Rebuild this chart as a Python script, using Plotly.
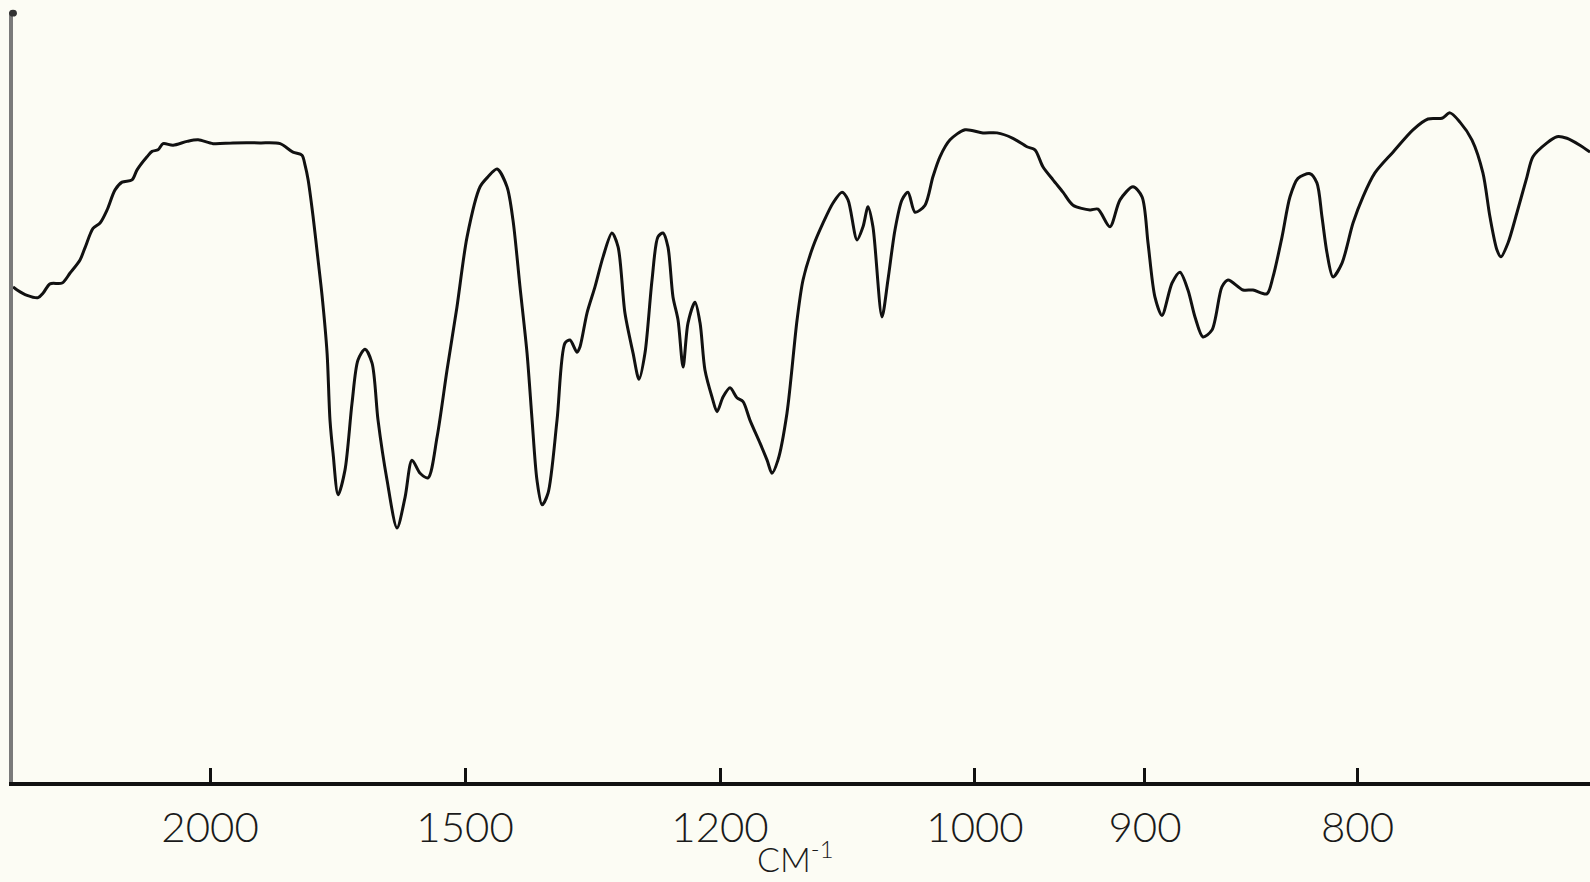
import plotly.graph_objects as go

# IR spectrum: abscissa linear in wavelength (µm), labelled in wavenumber (cm-1)
wavelength_um = [
    3.712, 3.739, 3.804, 3.876, 3.909, 3.954, 4.033, 4.085, 4.150, 4.183,
    4.235, 4.281, 4.327, 4.379, 4.425, 4.490, 4.523, 4.588, 4.621, 4.660,
    4.693, 4.758, 4.850, 4.922, 5.020, 5.150, 5.327, 5.458, 5.542, 5.601,
    5.621, 5.641, 5.673, 5.706, 5.732, 5.765, 5.784, 5.804, 5.837, 5.882,
    5.928, 5.967, 6.013, 6.059, 6.098, 6.157, 6.222, 6.275, 6.320, 6.373,
    6.425, 6.484, 6.549, 6.614, 6.680, 6.765, 6.817, 6.876, 6.941, 6.980,
    7.026, 7.072, 7.105, 7.137, 7.170, 7.209, 7.268, 7.320, 7.353, 7.399,
    7.418, 7.464, 7.516, 7.569, 7.627, 7.667, 7.712, 7.765, 7.804, 7.843,
    7.889, 7.928, 7.961, 7.993, 8.026, 8.059, 8.092, 8.124, 8.170, 8.203,
    8.235, 8.281, 8.314, 8.353, 8.399, 8.444, 8.484, 8.529, 8.595, 8.641,
    8.673, 8.712, 8.771, 8.837, 8.876, 8.941, 9.007, 9.072, 9.131, 9.170,
    9.229, 9.268, 9.301, 9.333, 9.392, 9.431, 9.477, 9.523, 9.562, 9.608,
    9.673, 9.725, 9.771, 9.837, 9.935, 10.052, 10.144, 10.248, 10.340, 10.392,
    10.444, 10.510, 10.575, 10.641, 10.752, 10.804, 10.882, 10.948, 11.033, 11.092,
    11.131, 11.176, 11.222, 11.288, 11.340, 11.392, 11.438, 11.490, 11.549, 11.614,
    11.654, 11.752, 11.817, 11.908, 11.948, 12.007, 12.059, 12.111, 12.190, 12.235,
    12.268, 12.301, 12.340, 12.399, 12.471, 12.536, 12.614, 12.732, 12.863, 12.961,
    13.052, 13.105, 13.170, 13.248, 13.320, 13.366, 13.412, 13.438, 13.484, 13.542,
    13.608, 13.647, 13.739, 13.804, 13.869, 13.954, 14.020,
]

transmittance = [
    64.3, 63.9, 63.2, 62.9, 63.5, 64.7, 64.8, 66.1, 67.8, 69.4,
    71.9, 72.6, 74.3, 76.9, 77.9, 78.2, 79.5, 81.2, 81.9, 82.1,
    82.9, 82.7, 83.2, 83.4, 82.9, 83.0, 83.0, 82.9, 81.8, 81.4,
    80.1, 78.2, 73.5, 67.8, 63.2, 55.7, 47.0, 42.7, 37.3, 40.5,
    49.2, 54.8, 56.2, 54.4, 47.0, 39.2, 33.0, 37.0, 41.8, 40.1,
    39.5, 44.8, 53.5, 61.7, 70.8, 77.3, 78.6, 79.6, 77.3, 73.0,
    64.3, 55.7, 47.0, 39.2, 36.0, 37.5, 47.0, 57.0, 57.4, 55.8,
    56.5, 60.9, 64.3, 68.2, 71.3, 69.5, 60.9, 55.7, 52.3, 55.7,
    65.2, 70.8, 71.3, 69.5, 63.0, 60.0, 53.9, 59.6, 62.3, 59.6,
    53.5, 50.0, 48.1, 50.0, 51.2, 49.9, 49.4, 47.0, 44.0, 41.8,
    40.1, 41.8, 47.9, 60.0, 65.2, 69.5, 72.6, 75.2, 76.6, 75.6,
    70.4, 72.1, 74.7, 72.1, 60.4, 65.2, 71.7, 75.6, 76.6, 74.0,
    74.9, 78.6, 81.2, 83.4, 84.7, 84.3, 84.3, 83.6, 82.5, 82.1,
    79.9, 78.2, 76.6, 74.9, 74.3, 74.4, 72.1, 75.6, 77.3, 76.0,
    70.0, 63.0, 60.6, 64.8, 66.2, 63.9, 60.4, 57.8, 58.7, 64.3,
    65.2, 63.9, 63.9, 63.4, 65.6, 70.8, 76.0, 78.4, 79.0, 77.8,
    73.4, 68.7, 65.6, 67.4, 72.6, 76.0, 79.1, 81.8, 84.7, 86.1,
    86.2, 86.9, 85.7, 83.4, 79.1, 73.4, 69.1, 68.2, 70.0, 73.9,
    78.6, 81.2, 83.0, 83.8, 83.6, 82.7, 81.8,
]

tick_wavenumbers = [2000, 1500, 1200, 1000, 900, 800]
tick_labels = ["2000", "1500", "1200", "1000", "900", "800"]
x_title = "CM<sup>-1</sup>"

BG = "#fcfcf4"
FONT = "Lato, 'Open Sans', sans-serif"

fig = go.Figure()
fig.add_trace(go.Scatter(
    x=wavelength_um, y=transmittance, mode="lines",
    line=dict(color="#111111", width=3, shape="spline", smoothing=0.8),
    hoverinfo="skip", showlegend=False,
))

fig.update_layout(
    width=1590, height=882,
    margin=dict(l=13, r=0, t=12, b=100),
    paper_bgcolor=BG, plot_bgcolor=BG,
    font=dict(family=FONT, color="#1a1a1a"),
    xaxis=dict(
        range=[3.712, 14.02],
        tickvals=[1e4 / w for w in tick_wavenumbers],
        ticktext=tick_labels,
        tickfont=dict(family=FONT, size=42, color="#1a1a1a", weight=300),
        ticks="inside", ticklen=14, tickwidth=3, tickcolor="#111111",
        ticklabelstandoff=6,
        showline=True, linecolor="#111111", linewidth=4,
        showgrid=False, zeroline=False, mirror=False,
    ),
    yaxis=dict(
        range=[0, 100],
        showline=True, linecolor="#7a7a7a", linewidth=4,
        showticklabels=False, ticks="", showgrid=False, zeroline=False,
    ),
    annotations=[dict(
        text=x_title, xref="paper", yref="paper",
        x=0.496, y=-0.128, xanchor="center", yanchor="bottom",
        showarrow=False, font=dict(family=FONT, size=34, color="#1a1a1a", weight=300),
    )],
    shapes=[dict(
        type="circle", xref="paper", yref="paper",
        x0=-0.0025, x1=0.0025, y0=0.994, y1=1.003,
        fillcolor="#333333", line=dict(width=0),
    )],
)

fig.write_html("out.html")
